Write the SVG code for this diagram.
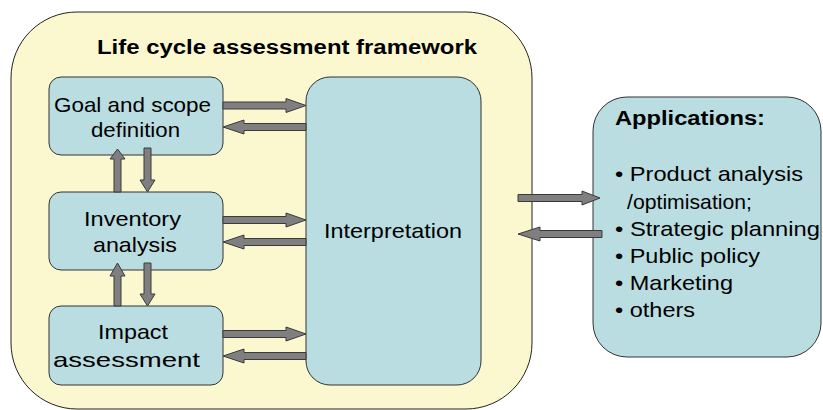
<svg xmlns="http://www.w3.org/2000/svg" width="823" height="410" viewBox="0 0 823 410">
  <style>
    .frame { fill: #FBF8D0; stroke: #222; stroke-width: 1; }
    .box { fill: #B9DDE0; stroke: #333; stroke-width: 1; }
    .lbl { font-family: "Liberation Sans", Arial, sans-serif; font-size: 21px; fill: #000; }
    .bold { font-weight: bold; font-size: 20px; }
    .arrow { fill: #7F7F7F; stroke: #3A3A3A; stroke-width: 1; stroke-linejoin: miter; }
  </style>
  <rect width="823" height="410" fill="#FFFFFF"/>

  <!-- LCA framework container -->
  <g id="framework">
    <rect class="frame" x="11" y="12" width="521" height="397" rx="66" ry="66"/>
    <text class="lbl bold" x="97" y="54" textLength="380" lengthAdjust="spacingAndGlyphs">Life cycle assessment framework</text>
  </g>

  <g id="goal">
    <rect class="box" x="49" y="77" width="174" height="78" rx="12" ry="12"/>
    <text class="lbl" x="54" y="112" textLength="157" lengthAdjust="spacingAndGlyphs">Goal and scope</text>
    <text class="lbl" x="91" y="137" textLength="89" lengthAdjust="spacingAndGlyphs">definition</text>
  </g>

  <g id="inventory">
    <rect class="box" x="49" y="192" width="174" height="78" rx="12" ry="12"/>
    <text class="lbl" x="84" y="226" textLength="97" lengthAdjust="spacingAndGlyphs">Inventory</text>
    <text class="lbl" x="93" y="252" textLength="84" lengthAdjust="spacingAndGlyphs">analysis</text>
  </g>

  <g id="impact">
    <rect class="box" x="49" y="306" width="174" height="79" rx="12" ry="12"/>
    <text class="lbl" x="98" y="339" textLength="70" lengthAdjust="spacingAndGlyphs">Impact</text>
    <text class="lbl" x="53" y="367" textLength="147" lengthAdjust="spacingAndGlyphs">assessment</text>
  </g>

  <g id="interpretation">
    <rect class="box" x="306" y="77" width="175" height="308" rx="24" ry="24"/>
    <text class="lbl" x="324" y="238" textLength="138" lengthAdjust="spacingAndGlyphs">Interpretation</text>
  </g>

  <g id="applications">
    <rect class="box" x="593" y="97" width="228" height="260" rx="34" ry="34"/>
    <text class="lbl bold" x="615" y="125" textLength="150" lengthAdjust="spacingAndGlyphs">Applications:</text>
    <text class="lbl" x="615" y="181" textLength="188" lengthAdjust="spacingAndGlyphs">• Product analysis</text>
    <text class="lbl" x="627" y="209" textLength="125" lengthAdjust="spacingAndGlyphs">/optimisation;</text>
    <text class="lbl" x="615" y="236" textLength="205" lengthAdjust="spacingAndGlyphs">• Strategic planning</text>
    <text class="lbl" x="615" y="263" textLength="145" lengthAdjust="spacingAndGlyphs">• Public policy</text>
    <text class="lbl" x="615" y="290" textLength="118" lengthAdjust="spacingAndGlyphs">• Marketing</text>
    <text class="lbl" x="615" y="317" textLength="80" lengthAdjust="spacingAndGlyphs">• others</text>
  </g>

  <!-- Block arrows between the stages -->
  <g id="connectors">
    <!-- goal <-> interpretation -->
    <polygon class="arrow" points="223,102 286,102 286,98.5 306,105.5 286,112.5 286,109 223,109"/>
    <polygon class="arrow" points="306,123.5 244,123.5 244,120 223,127 244,134 244,130.5 306,130.5"/>
    <!-- inventory <-> interpretation -->
    <polygon class="arrow" points="223,216.5 286,216.5 286,213 306,220 286,227 286,223.5 223,223.5"/>
    <polygon class="arrow" points="306,238.5 244,238.5 244,235 223,242 244,249 244,245.5 306,245.5"/>
    <!-- impact <-> interpretation -->
    <polygon class="arrow" points="223,330.5 286,330.5 286,327 306,334 286,341 286,337.5 223,337.5"/>
    <polygon class="arrow" points="306,352.5 244,352.5 244,349 223,356 244,363 244,359.5 306,359.5"/>
    <!-- goal <-> inventory -->
    <polygon class="arrow" points="114,192 114,159 110,159 117.5,149 125,159 121,159 121,192"/>
    <polygon class="arrow" points="144,148 144,180 140,180 147.5,192 155,180 151,180 151,148"/>
    <!-- inventory <-> impact -->
    <polygon class="arrow" points="114,306 114,276 110,276 117.5,263 125,276 121,276 121,306"/>
    <polygon class="arrow" points="144,263 144,294 140,294 147.5,306 155,294 151,294 151,263"/>
    <!-- framework <-> applications -->
    <polygon class="arrow" points="518,194.5 582,194.5 582,191 600,198 582,205 582,201.5 518,201.5"/>
    <polygon class="arrow" points="602,230.5 540,230.5 540,227 518,234 540,241 540,237.5 602,237.5"/>
  </g>
</svg>
